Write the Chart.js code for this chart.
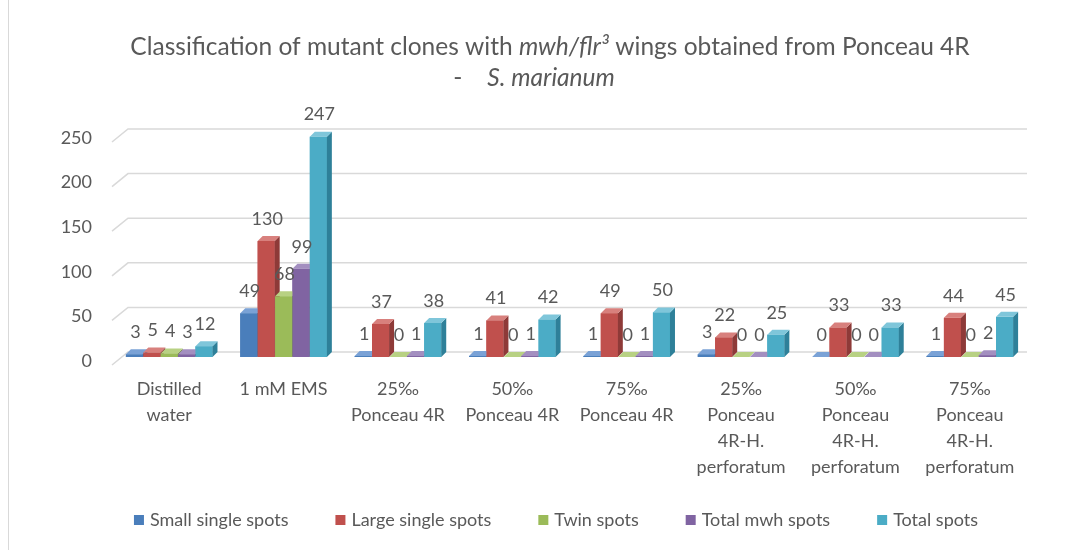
<!DOCTYPE html>
<html><head><meta charset="utf-8">
<script src="https://cdn.jsdelivr.net/npm/chart.js@4.4.1/dist/chart.umd.min.js"></script>
<style>html,body{margin:0;padding:0;background:#fff}#wrap{width:1076px;height:550px;position:relative}</style>
</head><body><div id="wrap"><canvas id="c" width="1076" height="550"></canvas></div>
<script>
// ---- data ----
const categories = [["Distilled","water"],"1 mM EMS",["25‰","Ponceau 4R"],["50‰","Ponceau 4R"],["75‰","Ponceau 4R"],["25‰","Ponceau","4R-H.","perforatum"],["50‰","Ponceau","4R-H.","perforatum"],["75‰","Ponceau","4R-H.","perforatum"]];
const smallSingle = [3,49,1,1,1,3,0,1];
const largeSingle = [5,130,37,41,49,22,33,44];
const twinSpots   = [4,68,0,0,0,0,0,0];
const totalMwh    = [3,99,1,1,1,0,0,2];
const totalSpots  = [12,247,38,42,50,25,33,45];
const seriesNames = ["Small single spots","Large single spots","Twin spots","Total mwh spots","Total spots"];
const yTicks = [0,50,100,150,200,250];

// ---- style ----
const FONT = "Lato, 'Open Sans', sans-serif";
const TXT = '#595959';
const FRONT = ['#4a7ebb','#c0504d','#9bbb59','#8064a2','#4bacc6'];
const SIDE  = ['#2f5a8f','#8e3a38','#76923c','#5f4a7a','#2e8099'];
const TOP   = ['#7aa2d6','#d8807d','#b8d183','#a38fc0','#7fc6da'];
const D = 5;

const seriesData = [smallSingle, largeSingle, twinSpots, totalMwh, totalSpots];

const gridPlugin = {
  id:'grid3d',
  beforeDatasetsDraw(chart){
    const {ctx, chartArea:{left,right}, scales:{y}} = chart;
    ctx.save();
    ctx.strokeStyle = '#d9d9d9'; ctx.lineWidth = 1.5;
    yTicks.forEach(v=>{
      const yp = y.getPixelForValue(v);
      ctx.beginPath();
      ctx.moveTo(left, yp+8); ctx.lineTo(left+16, yp-5); ctx.lineTo(right, yp-5);
      ctx.stroke();
    });
    ctx.restore();
  }
};

function poly(ctx, pts, color){
  ctx.fillStyle = color; ctx.beginPath();
  ctx.moveTo(pts[0][0], pts[0][1]);
  for (let k=1;k<pts.length;k++) ctx.lineTo(pts[k][0], pts[k][1]);
  ctx.closePath(); ctx.fill();
}

const bar3dPlugin = {
  id:'bar3d',
  afterDatasetsDraw(chart){
    const ctx = chart.ctx;
    ctx.save();
    const labels = [];
    chart.data.datasets.forEach((ds,i)=>{
      const meta = chart.getDatasetMeta(i);
      meta.data.forEach((bar,j)=>{
        const {x,y,base,width} = bar.getProps(['x','y','base','width'], true);
        const l = x - width/2, r = x + width/2;
        ctx.fillStyle = FRONT[i];
        ctx.fillRect(l, y, width, base - y);
        poly(ctx, [[r,y],[r+D,y-D],[r+D,base-D],[r,base]], SIDE[i]);
        poly(ctx, [[l,y],[l+D,y-D],[r+D,y-D],[r,y]], TOP[i]);
        labels.push([String(ds.data[j]), x + 1, y - 22]);
      });
    });
    ctx.fillStyle = TXT;
    ctx.font = "18px " + FONT;
    ctx.textAlign = 'center'; ctx.textBaseline = 'middle';
    labels.forEach(([t,x,y])=>ctx.fillText(t,x,y));
    ctx.restore();
  }
};

function drawRuns(ctx, runs, cx, cy, size){
  const w = runs.map(([t,it])=>{ctx.font=(it?'italic ':'')+size+'px '+FONT; return ctx.measureText(t).width;});
  const total = w.reduce((a,b)=>a+b,0);
  let x = cx - total/2;
  runs.forEach(([t,it],k)=>{ctx.font=(it?'italic ':'')+size+'px '+FONT; ctx.fillText(t,x,cy); x+=w[k];});
}

const decoPlugin = {
  id:'deco',
  afterDraw(chart){
    const ctx = chart.ctx;
    ctx.save();
    // frame line on the left
    ctx.strokeStyle = '#d9d9d9'; ctx.lineWidth = 1;
    ctx.beginPath(); ctx.moveTo(8.5,0); ctx.lineTo(8.5,550); ctx.stroke();
    // title
    ctx.fillStyle = TXT; ctx.textAlign='left'; ctx.textBaseline='middle';
    drawRuns(ctx, [["Classification of mutant clones with ",false],["mwh/flr³",true],[" wings obtained from Ponceau 4R",false]], 550, 47, 24.5);
    drawRuns(ctx, [["-    ",false],["S. marianum",true]], 534, 78, 24.5);
    // legend
    ctx.font = "18px " + FONT;
    const gap = 47, bw = 10, tg = 6;
    const widths = seriesNames.map(n=>ctx.measureText(n).width);
    const total = widths.reduce((a,b)=>a+b,0) + seriesNames.length*(bw+tg) + gap*(seriesNames.length-1);
    let x = 556 - total/2; const yc = 520;
    seriesNames.forEach((n,i)=>{
      ctx.fillStyle = FRONT[i]; ctx.fillRect(x, yc-5, bw, bw);
      ctx.fillStyle = TXT; ctx.fillText(n, x+bw+tg, yc);
      x += bw + tg + widths[i] + gap;
    });
    ctx.restore();
  }
};

new Chart(document.getElementById('c'), {
  type:'bar',
  data:{
    labels: categories,
    datasets: seriesNames.map((n,i)=>({label:n, data:seriesData[i], backgroundColor:FRONT[i], borderWidth:0, categoryPercentage:0.76, barPercentage:0.98}))
  },
  options:{
    responsive:false, animation:false, devicePixelRatio:1,
    layout:{padding:{top:134,right:49,left:0,bottom:0}},
    plugins:{legend:{display:false},title:{display:false},tooltip:{enabled:false}},
    scales:{
      x:{grid:{display:false,drawTicks:false},border:{display:false},
         ticks:{autoSkip:false,maxRotation:0,minRotation:0,color:TXT,font:{family:FONT,size:18,lineHeight:1.45},padding:19},
         afterFit(s){s.height=193;}},
      y:{min:0,max:250,
         afterBuildTicks(s){s.ticks=yTicks.map(v=>({value:v}));},
         grid:{display:false,drawTicks:false},border:{display:false},
         ticks:{color:TXT,font:{family:FONT,size:18},padding:20,labelOffset:4},
         afterFit(s){s.width=112;}}
    }
  },
  plugins:[gridPlugin, bar3dPlugin, decoPlugin]
});
</script></body></html>
